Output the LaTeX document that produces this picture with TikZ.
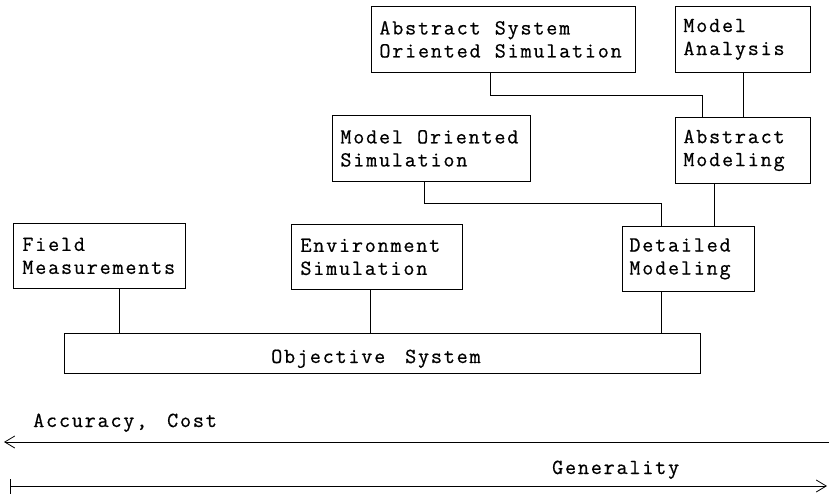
\documentclass[tikz,border=0pt]{standalone}
\usepackage{fontspec}
\usetikzlibrary{arrows.meta}
\newfontfamily\boxfont[LetterSpace=8.4,FakeBold=0.6]{Latin Modern Mono}
\newcommand\wgap{\hspace{7pt}}
\begin{document}
\begin{tikzpicture}[x=1pt,y=-1pt,
  every node/.style={font=\boxfont\fontsize{21.5}{23}\selectfont},
  boxnode/.style={draw, rectangle, anchor=north west, inner xsep=9pt, inner ysep=0pt,
    align=left, line width=0.8pt},
  conn/.style={line width=0.8pt},
  scalearrow/.style={line width=0.8pt}]
\useasboundingbox (0,0) rectangle (830,498);

\node[boxnode, text width=154pt, minimum height=65pt] (field) at (13,223) {Field\\Measurements};
\node[boxnode, text width=153pt, minimum height=65pt] (env) at (291,224) {Environment\\Simulation};
\node[boxnode, text width=118pt, minimum height=65pt, inner xsep=7pt] (det) at (622,226) {Detailed\\Modeling};
\node[boxnode, text width=182pt, minimum height=66pt, inner xsep=8pt] (mos) at (332,115) {Model\wgap{} Oriented\\Simulation};
\node[boxnode, text width=119pt, minimum height=66pt, inner xsep=8pt] (absmod) at (675,117) {Abstract\\Modeling};
\node[boxnode, text width=248pt, minimum height=66pt, inner xsep=8pt] (asos) at (371,6) {\mbox{Abstract\wgap{} System}\\\mbox{Oriented\wgap{} Simulation}};
\node[boxnode, text width=119pt, minimum height=66pt, inner xsep=8pt] (ma) at (675,6) {Model\\Analysis};
\node[draw, rectangle, anchor=north west, line width=0.8pt, minimum width=636pt, minimum height=40pt, inner sep=0pt] (obj) at (64,333) {};
\node[anchor=base west, inner sep=0pt] (objtext) at (271,363) {Objective\wgap{} System};

% connectors upper part
\draw[conn] ([xshift=-13pt]asos.south) |- (702,95) coordinate (c1) -- (c1 |- absmod.north);
\draw[conn] (ma.south) -- (absmod.north);
\draw[conn] ([xshift=-7pt]mos.south) |- (661,203) coordinate (c2) -- (c2 |- det.north);
\draw[conn] ([xshift=-28.5pt]absmod.south) -- ([xshift=-28.5pt]absmod.south |- det.north);

% connectors to objective system
\draw[conn] ([xshift=20pt]field.south) -- ([xshift=20pt]field.south |- obj.north);
\draw[conn] ([xshift=-6.5pt]env.south) -- ([xshift=-6.5pt]env.south |- obj.north);
\draw[conn] ([xshift=-27pt]det.south) -- ([xshift=-27pt]det.south |- obj.north);

% scales
\node[anchor=base west, inner sep=0pt] (acc) at (33,427) {Accuracy,\wgap{} Cost};
\coordinate (accR) at (829,442);
\coordinate (accL) at (4,442);
\draw[scalearrow, -{Straight Barb[length=10pt,width=12pt]}] (accR) -- (accL);

\node[anchor=base west, inner sep=0pt] (gen) at (552,474) {Generality};
\coordinate (genL) at (10,486);
\coordinate (genR) at (827,486);
\draw[scalearrow, {Bar[width=15pt]}-{Straight Barb[length=10pt,width=12pt]}] (genL) -- (genR);
\end{tikzpicture}
\end{document}
